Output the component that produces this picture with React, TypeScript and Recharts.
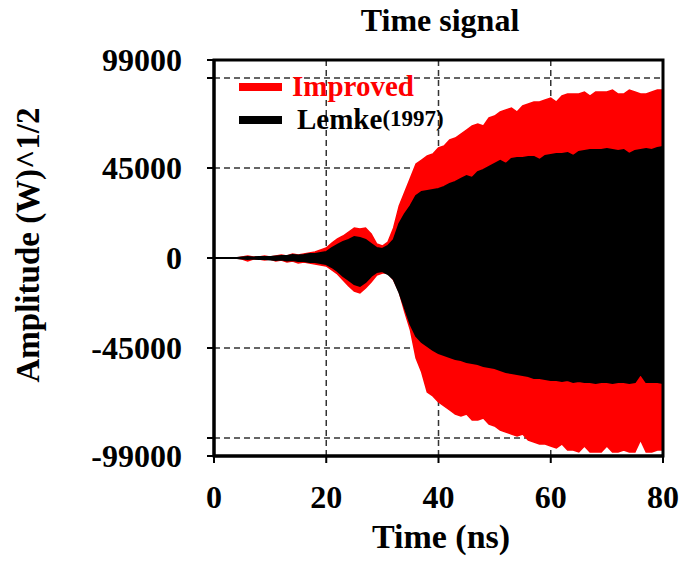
import {
  AreaChart, Area, XAxis, YAxis, CartesianGrid, ReferenceArea,
} from 'recharts';

const FONT = '"Liberation Serif", "Times New Roman", serif';

// time axis (ns)
const times = [
  0, 1, 2, 3, 4, 5, 6, 7, 8, 9, 10, 11, 12, 13, 14, 15, 16, 17, 18, 19,
  20, 21, 22, 23, 24, 25, 26, 27, 28, 29, 30, 31, 32, 33, 34, 35, 36, 37, 38, 39,
  40, 41, 42, 43, 44, 45, 46, 47, 48, 49, 50, 51, 52, 53, 54, 55, 56, 57, 58, 59,
  60, 61, 62, 63, 64, 65, 66, 67, 68, 69, 70, 71, 72, 73, 74, 75, 76, 77, 78, 79, 80,
];

// envelope of the "Improved" signal
const improvedHi = [
  0, 0, 0, 0, 0, 500, 1000, 500, 500, 1000,
  500, 1000, 1500, 1000, 2000, 1500, 2000, 2500, 3000, 4000,
  5000, 7500, 9500, 11000, 13000, 15000, 14500, 15000, 12000, 7000,
  6000, 8000, 15000, 26000, 33000, 40000, 47000, 49000, 51000, 52000,
  55000, 56000, 59000, 60000, 62000, 64000, 66000, 67000, 66000, 70000,
  71000, 73000, 74000, 75000, 73000, 76000, 77000, 78000, 78000, 79000,
  80000, 78000, 81000, 82000, 82000, 82000, 83000, 81000, 83000, 83000,
  83000, 84000, 82000, 82000, 84000, 83000, 82000, 82000, 83000, 84000, 84000,
];
const improvedLo = [
  0, 0, 0, 0, 0, -500, -1500, -500, -500, -1000,
  -500, -1500, -1000, -2000, -1500, -2500, -2000, -2500, -3000, -3500,
  -4000, -6000, -8000, -11000, -14000, -16500, -17500, -15000, -12000, -8500,
  -7500, -7500, -11000, -17000, -27000, -36000, -50000, -57000, -67000, -69000,
  -72000, -74000, -76000, -78000, -79000, -78000, -81000, -81000, -80000, -83000,
  -84000, -86000, -87000, -88000, -89000, -88000, -91000, -92000, -93000, -93000,
  -94000, -95000, -93000, -96000, -96000, -97000, -94000, -97000, -97000, -97000,
  -94000, -97000, -97000, -96000, -97000, -97000, -91000, -97000, -97000, -96000, -96000,
];

// envelope of the Lemke(1997) signal
const lemkeHi = [
  0, 0, 0, 0, 0, 300, 500, 300, 500, 500,
  500, 800, 1000, 1000, 1500, 1200, 1500, 2000, 2000, 2500,
  3000, 5000, 6500, 8000, 9000, 10500, 10000, 9000, 7000, 5000,
  4500, 6000, 9000, 17000, 22000, 26000, 31000, 33000, 33500, 34000,
  34500, 35500, 37000, 38000, 39500, 41000, 40000, 43000, 44000, 45500,
  47000, 48500, 47000, 49500, 50000, 50000, 50500, 50500, 49000, 51000,
  51500, 52000, 52000, 52500, 51000, 53000, 53500, 54000, 54000, 54000,
  54500, 54000, 53500, 54000, 52000, 53500, 54000, 54500, 54000, 55000, 55500,
];
const lemkeLo = [
  0, 0, 0, 0, 0, -300, -500, -300, -500, -500,
  -800, -1000, -800, -1200, -1000, -1500, -1500, -2000, -2000, -2500,
  -3000, -4500, -6500, -9000, -11000, -13000, -14000, -12000, -9000, -7000,
  -6500, -8000, -10500, -17000, -25000, -33000, -39000, -42000, -44000, -46000,
  -47500, -48500, -49500, -50500, -51000, -52000, -52500, -53000, -54000, -54500,
  -55000, -56000, -57000, -57500, -58000, -58500, -59000, -60000, -60000, -60500,
  -61000, -61000, -61500, -61000, -62000, -61500, -62000, -62000, -62500, -62000,
  -62000, -62500, -62000, -62000, -62500, -62000, -58000, -62000, -62000, -62000, -62500,
];

const xTicks = [0, 20, 40, 60, 80];
const yTicks = [-99000, -90000, -45000, 0, 45000, 90000, 99000];
const hiddenYLabels = [-90000, 90000];

const data = times.map((t, i) => ({
  t,
  improved: [improvedLo[i], improvedHi[i]],
  lemke: [lemkeLo[i], lemkeHi[i]],
}));

function LegendBox() {
  const row = { display: 'flex', alignItems: 'center', height: 33 };
  const swatch = (color: string) => ({ width: 43, height: 8, background: color });
  return (
    <div style={{ position: 'absolute', left: 239, top: 70, fontFamily: FONT, fontWeight: 'bold', lineHeight: 1 }}>
      <div style={row}>
        <div style={swatch('#ff0000')} />
        <span style={{ marginLeft: 10, fontSize: 29, color: '#ff0000' }}>Improved</span>
      </div>
      <div style={row}>
        <div style={swatch('#000')} />
        <span style={{ marginLeft: 15, fontSize: 29, color: '#000' }}>
          Lemke<span style={{ fontSize: 23, position: 'relative', top: -3 }}>(1997)</span>
        </span>
      </div>
    </div>
  );
}

export default function App() {
  return (
    <div style={{ position: 'absolute', left: 0, top: 0, width: 688, height: 564, background: '#fff', fontFamily: FONT }}>
      <AreaChart
        width={688}
        height={564}
        data={data}
        margin={{ top: 60, right: 25, bottom: 0, left: 0 }}
      >
        <CartesianGrid stroke="#333" strokeWidth={1.5} strokeDasharray="6 4" />
        <XAxis
          type="number"
          dataKey="t"
          domain={[0, 80]}
          ticks={xTicks}
          interval={0}
          height={108}
          tickSize={7}
          tickMargin={22}
          axisLine={{ stroke: '#000', strokeWidth: 3 }}
          tickLine={{ stroke: '#000', strokeWidth: 2 }}
          tick={{ fontSize: 32, fontWeight: 'bold', fill: '#000', fontFamily: FONT }}
        />
        <YAxis
          type="number"
          domain={[-99000, 99000]}
          ticks={yTicks}
          interval={0}
          width={214}
          tickSize={7}
          tickMargin={25}
          allowDataOverflow
          axisLine={{ stroke: '#000', strokeWidth: 3 }}
          tickLine={{ stroke: '#000', strokeWidth: 2 }}
          tickFormatter={(v) => (hiddenYLabels.includes(v) ? '' : String(v))}
          tick={{ fontSize: 32, fontWeight: 'bold', fill: '#000', fontFamily: FONT }}
        />
        <Area
          type="linear"
          dataKey="improved"
          name="Improved"
          stroke="#ff0000"
          strokeWidth={1.5}
          fill="#ff0000"
          fillOpacity={1}
          isAnimationActive={false}
        />
        <Area
          type="linear"
          dataKey="lemke"
          name="Lemke(1997)"
          stroke="#000"
          strokeWidth={2}
          fill="#000"
          fillOpacity={1}
          isAnimationActive={false}
        />
        <ReferenceArea
          x1={0}
          x2={80}
          y1={-99000}
          y2={99000}
          fill="none"
          stroke="#000"
          strokeWidth={3}
          ifOverflow="visible"
        />
      </AreaChart>
      <LegendBox />
      <div style={{ position: 'absolute', left: 240, width: 400, top: 4, textAlign: 'center', fontSize: 32, fontWeight: 'bold', lineHeight: 1 }}>
        Time signal
      </div>
      <div style={{ position: 'absolute', left: 241, width: 400, top: 520, textAlign: 'center', fontSize: 34, fontWeight: 'bold', lineHeight: 1 }}>
        Time (ns)
      </div>
      <div
        style={{
          position: 'absolute', left: 28, top: 245, whiteSpace: 'nowrap',
          transform: 'translate(-50%, -50%) rotate(-90deg)',
          fontSize: 33, fontWeight: 'bold', lineHeight: 1,
        }}
      >
        Amplitude (W)^1/2
      </div>
    </div>
  );
}
